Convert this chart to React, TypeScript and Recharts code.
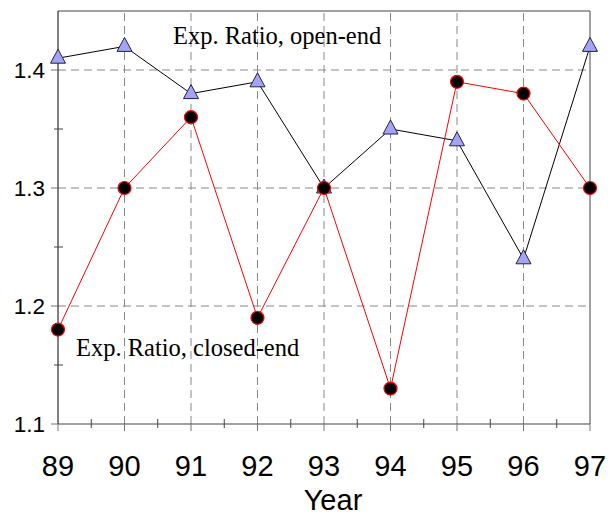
import { LineChart, Line, XAxis, YAxis, ReferenceLine } from 'recharts'

const years = [89, 90, 91, 92, 93, 94, 95, 96, 97]
const openEnd = [1.41, 1.42, 1.38, 1.39, 1.3, 1.35, 1.34, 1.24, 1.42]
const closedEnd = [1.18, 1.3, 1.36, 1.19, 1.3, 1.13, 1.39, 1.38, 1.3]

const yTicks = [1.1, 1.15, 1.2, 1.25, 1.3, 1.35, 1.4]
const yGrid = [1.2, 1.3, 1.4]
const xGrid = [90, 91, 92, 93, 94, 95, 96]

const data = years.map((year, i) => ({
  year,
  open: openEnd[i],
  closed: closedEnd[i],
}))

// half-year minor ticks between the labelled years
const xTicks = years.flatMap((y) => (y < 97 ? [y, y + 0.5] : [y]))

const sans = '"Liberation Sans", Arial, sans-serif'
const serif = '"Liberation Serif", "Times New Roman", serif'

const XTick = ({ x, y, payload }: any) => {
  const major = Number.isInteger(payload.value)
  return (
    <g>
      {major ? (
        <line x1={x} x2={x} y1={y} y2={y + 7} stroke="#777" />
      ) : (
        <line x1={x} x2={x} y1={y - 5} y2={y + 4} stroke="#444" />
      )}
      {major && (
        <text x={x} y={y + 52} textAnchor="middle" fontSize={29} fontFamily={sans} fill="#000">
          {payload.value}
        </text>
      )}
    </g>
  )
}

const YTick = ({ x, y, payload }: any) => {
  const v = payload.value
  const major = Math.abs(v * 10 - Math.round(v * 10)) < 1e-6
  return (
    <g>
      {major ? (
        <line x1={x - 7} x2={x} y1={y} y2={y} stroke="#777" />
      ) : (
        <line x1={x - 4} x2={x + 5} y1={y} y2={y} stroke="#444" />
      )}
      {major && (
        <text x={x - 13} y={y + 8} textAnchor="end" fontSize={22.5} fontFamily={sans} fill="#000">
          {v.toFixed(1)}
        </text>
      )}
    </g>
  )
}

const Triangle = ({ cx, cy, index }: any) => (
  <polygon
    key={index}
    points={`${cx},${cy - 9} ${cx - 7.5},${cy + 5} ${cx + 7.5},${cy + 5}`}
    fill="#a4a4f4"
    stroke="#222244"
    strokeWidth={1}
  />
)

export default function App() {
  return (
    <div style={{ position: 'absolute', left: 0, top: 0, width: 616, height: 515 }}>
      <LineChart width={616} height={515} data={data} margin={{ top: 11, right: 26, left: 0, bottom: 0 }}>
        <XAxis
          dataKey="year"
          type="number"
          domain={[89, 97]}
          ticks={xTicks}
          interval={0}
          height={91}
          tickSize={0}
          tickMargin={0}
          tickLine={false}
          axisLine={{ stroke: '#444' }}
          tick={<XTick />}
        />
        <YAxis
          type="number"
          domain={[1.1, 1.45]}
          ticks={yTicks}
          interval={0}
          width={58}
          tickSize={0}
          tickMargin={0}
          tickLine={false}
          axisLine={{ stroke: '#000' }}
          tick={<YTick />}
        />
        {xGrid.map((v) => (
          <ReferenceLine key={'x' + v} x={v} stroke="#888" strokeDasharray="8 5" />
        ))}
        {yGrid.map((v) => (
          <ReferenceLine key={'y' + v} y={v} stroke="#888" strokeDasharray="8 5" />
        ))}
        <ReferenceLine y={1.45} stroke="#444" />
        <ReferenceLine x={97} stroke="#444" />
        <Line
          dataKey="open"
          stroke="#000"
          strokeWidth={1}
          dot={<Triangle />}
          isAnimationActive={false}
        />
        <Line
          dataKey="closed"
          stroke="#ff0000"
          strokeWidth={1}
          dot={{ r: 6.5, fill: '#000', stroke: '#ff0000', strokeWidth: 1.2 }}
          isAnimationActive={false}
        />
      </LineChart>
      <svg
        width={616}
        height={515}
        style={{ position: 'absolute', left: 0, top: 0, pointerEvents: 'none' }}
      >
        <text x={173} y={44} fontSize={24.5} fontFamily={serif} fill="#000">
          Exp. Ratio, open-end
        </text>
        <text x={76} y={356} fontSize={24.5} fontFamily={serif} fill="#000">
          Exp. Ratio, closed-end
        </text>
        <text x={333} y={510} textAnchor="middle" fontSize={29} fontFamily={sans} fill="#000">
          Year
        </text>
      </svg>
    </div>
  )
}
